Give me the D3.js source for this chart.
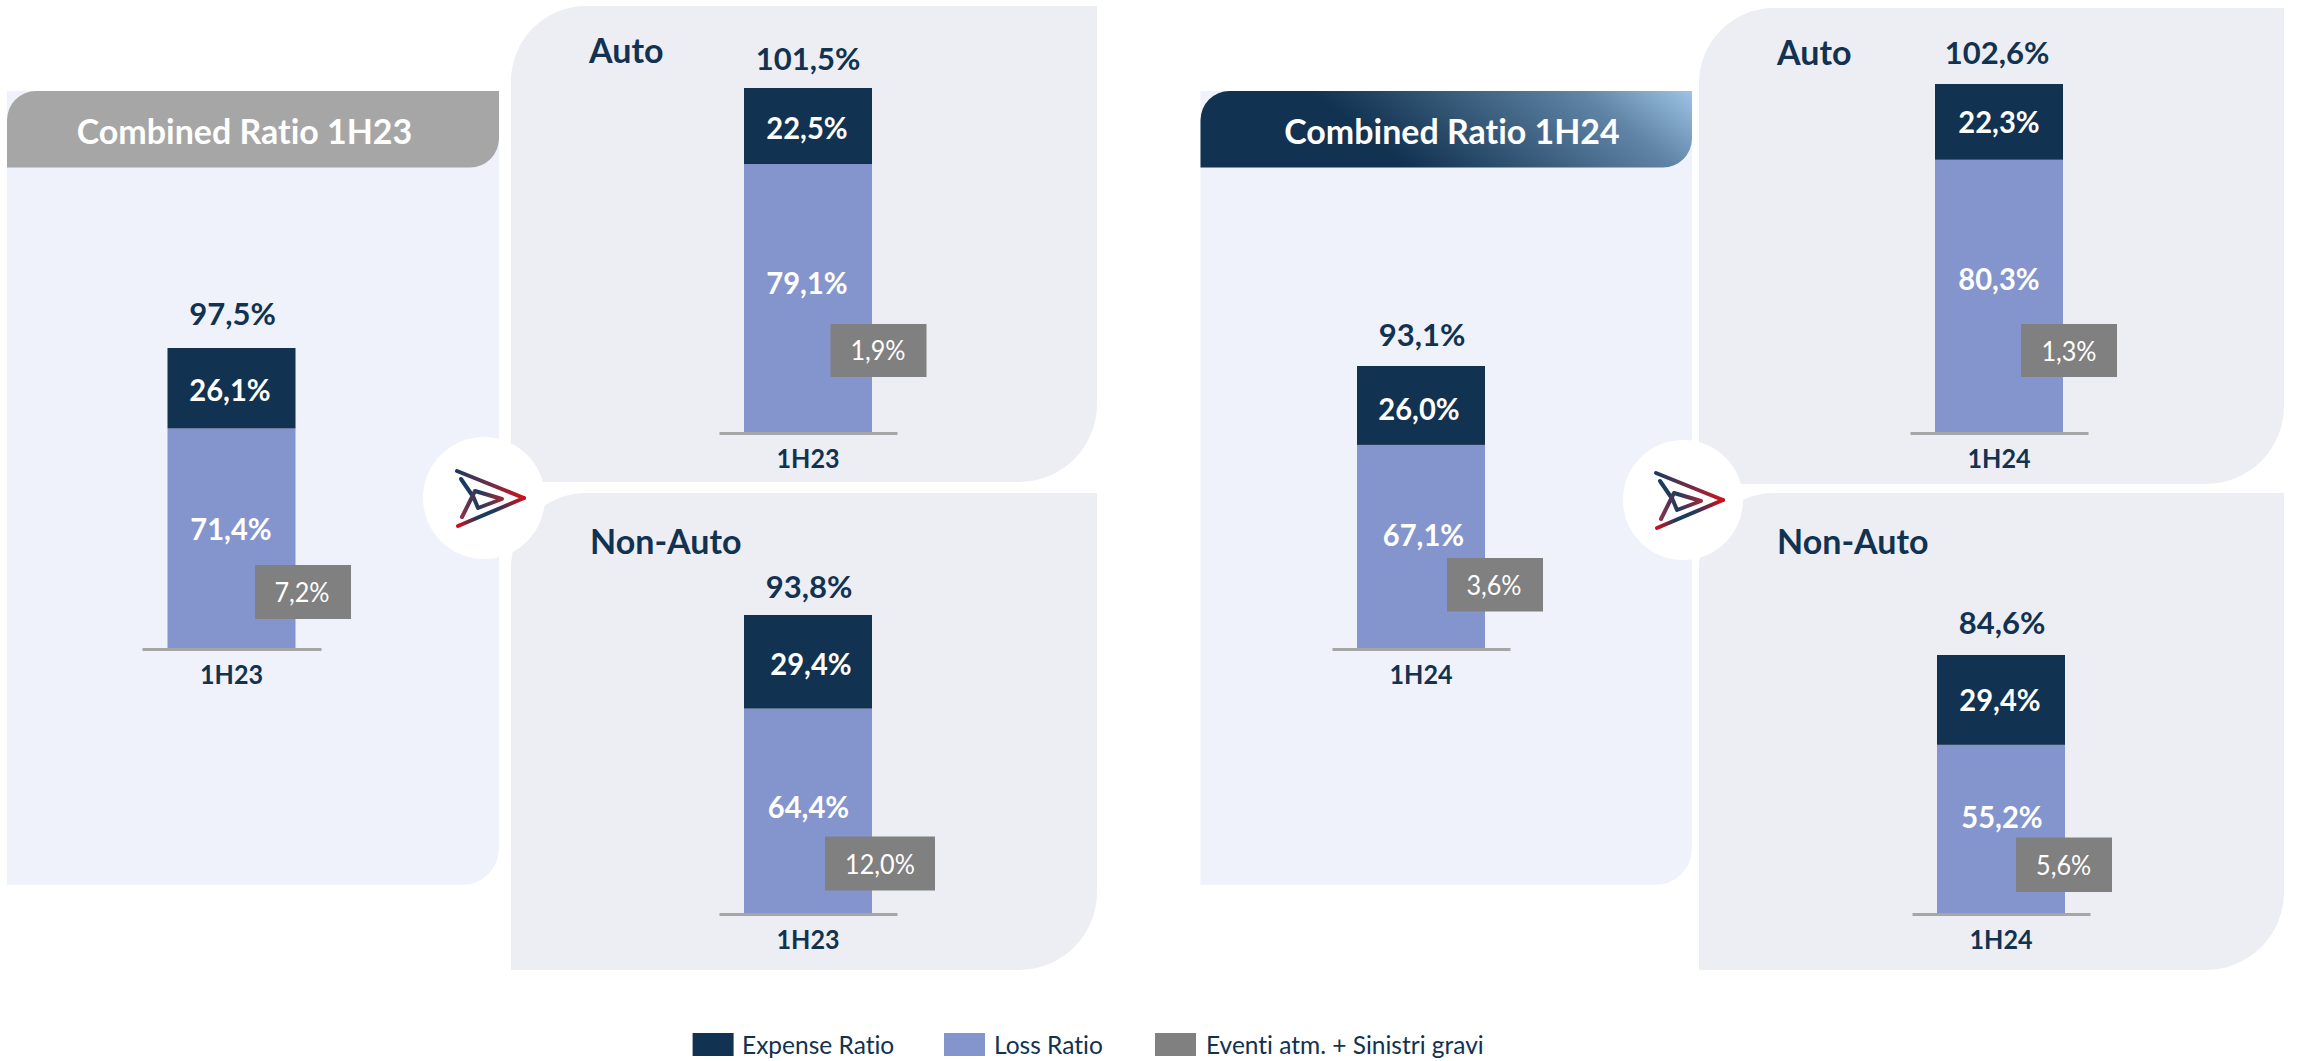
<!DOCTYPE html>
<html><head><meta charset="utf-8">
<script src="https://cdn.jsdelivr.net/npm/d3@7/dist/d3.min.js"></script>
<style>html,body{margin:0;background:#fff}svg{display:block}text{font-family:Lato,sans-serif;font-variant-ligatures:none}</style>
</head><body><div id="c"></div>
<script>
// ---- data
const charts   = ["Tot23","Auto23","NonAuto23","Tot24","Auto24","NonAuto24"];
const category = ["1H23","1H23","1H23","1H24","1H24","1H24"];
const totals   = [97.5,101.5,93.8,93.1,102.6,84.6];
const expense  = [26.1,22.5,29.4,26.0,22.3,29.4];
const loss     = [71.4,79.1,64.4,67.1,80.3,55.2];
const events   = [7.2,1.9,12.0,3.6,1.3,5.6];
const legendLabels = ["Expense Ratio","Loss Ratio","Eventi atm. + Sinistri gravi"];
const headerTitles = ["Combined Ratio 1H23","Combined Ratio 1H24"];
const panelTitles  = ["Auto","Non-Auto","Auto","Non-Auto"];

// ---- layout (pixel placement only)
const C={dark:"#113250",loss:"#8495cd",gray:"#808080",soft:"#eff2fa",panel:"#edeef3",axis:"#a6a6a6"};
const layout=[
 {bar:[167,295],axis:[142,321],top:348,base:648.5,total:[232.5,313.5],exp:[230,390],los:[231,529],box:[255,565,351,619],ev:[302,592.5]},
 {bar:[744,872],axis:[719,897],top:88,base:432.5,total:[808,59],exp:[807,127.7],los:[807,283],box:[830.5,324,926.5,377],ev:[878,351]},
 {bar:[744,872],axis:[719,897],top:615,base:913.5,total:[809,587],exp:[811,664.5],los:[808.5,807],box:[825,836.5,935,890.5],ev:[880,864.5]},
 {bar:[1357,1485],axis:[1332,1510],top:366,base:648.5,total:[1422,334.5],exp:[1419,409],los:[1423.5,535],box:[1447,558,1543,611.5],ev:[1494,586]},
 {bar:[1935,2063],axis:[1910,2088],top:84,base:432.5,total:[1997,53],exp:[1999,122.6],los:[1999,279],box:[2021,324,2117,377],ev:[2069,352]},
 {bar:[1937,2065],axis:[1912,2090],top:655,base:913.5,total:[2002,623],exp:[2000,700.6],los:[2002,817],box:[2016,837.5,2112,892],ev:[2063.7,865.5]}
];
// [font size, horizontal squeeze]
const fs={total:[31,1],val:[30,.97],ev:[26,.97],cat:[27,.93],title:[34,1],head:[35,.97],leg:[24.5,1]};
const W=2297,H=1061;
const svg=d3.select("#c").append("svg").attr("width",W).attr("height",H);
const defs=svg.append("defs");
const pct=d3.formatLocale({decimal:",",thousands:".",grouping:[3],currency:["","€"]}).format(".1f");
const label=v=>pct(v)+"%";

// rect with rounded top-left and bottom-right corners
function tlbr(x0,y0,x1,y1,r1,r2){
  const p=d3.path();
  p.moveTo(x0+r1,y0);p.lineTo(x1,y0);p.lineTo(x1,y1-r2);
  if(r2)p.arc(x1-r2,y1-r2,r2,0,Math.PI/2);
  p.lineTo(x0,y1);p.lineTo(x0,y0+r1);
  if(r1)p.arc(x0+r1,y0+r1,r1,Math.PI,Math.PI*1.5);
  p.closePath();return p.toString();
}
function squeeze(t,k){
  if(k!==1){const n=t.node();t.attr("textLength",n.getComputedTextLength()*k).attr("lengthAdjust","spacingAndGlyphs");}
  return t;
}
function txt(g,x,y,s,f,fill,weight,anchor){
  const t=g.append("text").attr("x",x).attr("y",y).attr("dy","0.36em").attr("text-anchor",anchor||"middle")
    .attr("font-size",f[0]).attr("font-weight",weight||700).attr("fill",fill).text(s);
  return squeeze(t,f[1]);
}

// ---- panels
const bg=svg.append("g");
[[7,91,499,885],[1200.5,91,1692,885]].forEach(b=>bg.append("path").attr("d",tlbr(b[0],b[1],b[2],b[3],0,37)).attr("fill",C.soft));
[[511,6,1097,482],[511,493,1097,970],[1699,8,2284,484],[1699,493,2284,970]].forEach(b=>
  bg.append("path").attr("d",tlbr(b[0],b[1],b[2],b[3],75,78)).attr("fill",C.panel));

// headers
const grad=defs.append("linearGradient").attr("id","hg").attr("gradientUnits","userSpaceOnUse")
  .attr("x1",1311).attr("y1",91).attr("x2",1455).attr("y2",-94);
[[0,C.dark],[0.7,"#5f84a5"],[1,"#9dc3e6"]].forEach(s=>grad.append("stop").attr("offset",s[0]).attr("stop-color",s[1]));
bg.append("path").attr("d",tlbr(7,91,499,167.5,29,29)).attr("fill","#a6a6a6");
bg.append("path").attr("d",tlbr(1200.5,91,1692,167.5,29,29)).attr("fill","url(#hg)");
txt(bg,244.5,131,headerTitles[0],fs.head,"#fff");
txt(bg,1452,131,headerTitles[1],fs.head,"#fff");
[[589,50.7],[590,542],[1777,52.4],[1777,542]].forEach((p,i)=>txt(bg,p[0],p[1],panelTitles[i],fs.title,C.dark,700,"start"));

// ---- charts
charts.forEach((id,i)=>{
  const L=layout[i],g=svg.append("g").attr("class","chart "+id);
  const y=d3.scaleLinear().domain([0,totals[i]]).range([L.base,L.top]);
  const r=L.axis[1]-L.axis[0],bw=L.bar[1]-L.bar[0],p=(r-bw)/(r+bw);
  const x=d3.scaleBand().domain([category[i]]).range(L.axis).paddingInner(p).paddingOuter(p);
  g.append("rect").attr("x",x(category[i])).attr("width",x.bandwidth()).attr("y",y(loss[i])).attr("height",y(0)-y(loss[i])).attr("fill",C.loss);
  g.append("rect").attr("x",x(category[i])).attr("width",x.bandwidth()).attr("y",y(totals[i])).attr("height",y(loss[i])-y(totals[i])).attr("fill",C.dark);
  const ax=g.append("g").attr("transform",`translate(0,${L.base+0.5})`).call(d3.axisBottom(x).tickSize(0).tickPadding(0));
  ax.select(".domain").attr("stroke",C.axis).attr("stroke-width",3);
  ax.selectAll("text").attr("font-size",fs.cat[0]).attr("font-weight",700).attr("fill",C.dark)
    .attr("font-family","Lato,sans-serif").attr("y",25).attr("dy","0.36em")
    .each(function(){squeeze(d3.select(this),fs.cat[1]);});
  txt(g,L.total[0],L.total[1],label(totals[i]),fs.total,C.dark);
  txt(g,L.exp[0],L.exp[1],label(expense[i]),fs.val,"#fff");
  txt(g,L.los[0],L.los[1],label(loss[i]),fs.val,"#fff");
  const b=L.box;
  g.append("rect").attr("x",b[0]).attr("y",b[1]).attr("width",b[2]-b[0]).attr("height",b[3]-b[1]).attr("fill",C.gray);
  txt(g,L.ev[0],L.ev[1],label(events[i]),fs.ev,"#fff",400);
});

// ---- logo badges
const lg1=defs.append("linearGradient").attr("id","lgT");
[[0,"#1c3a5e"],[0.55,"#7a2a45"],[1,"#d0101a"]].forEach(s=>lg1.append("stop").attr("offset",s[0]).attr("stop-color",s[1]));
const lg2=defs.append("linearGradient").attr("id","lgB");
[[0,"#d0101a"],[0.3,"#1c3a5e"],[0.55,"#1c3a5e"],[1,"#d0101a"]].forEach(s=>lg2.append("stop").attr("offset",s[0]).attr("stop-color",s[1]));
const lg3=defs.append("linearGradient").attr("id","lgI");
[[0,"#8a3048"],[0.4,"#1c3a5e"],[1,"#a02835"]].forEach(s=>lg3.append("stop").attr("offset",s[0]).attr("stop-color",s[1]));
defs.append("filter").attr("id","soft").append("feGaussianBlur").attr("stdDeviation",0.5);
[[484,498,61],[1683,500,60]].forEach(o=>{
  const g=svg.append("g").attr("transform",`translate(${o[0]},${o[1]})`);
  g.append("circle").attr("r",o[2]).attr("fill","#fff");
  const m=g.append("g").attr("filter","url(#soft)");
  const s=(d,c,w)=>m.append("path").attr("d",d).attr("fill","none").attr("stroke",c).attr("stroke-width",w).attr("stroke-linecap","round").attr("stroke-linejoin","round");
  s("M-27,-27L40,0","url(#lgT)",4);
  s("M40,0L-26,28","url(#lgB)",4);
  s("M-23,-19L-12,-3","#1c3a5e",4);
  s("M-22,19L-9,-7L18,1L-6,10L-11,-2","url(#lgI)",4);
});

// ---- legend
const lg=svg.append("g").attr("class","legend");
[[692.6,C.dark,742],[944,C.loss,994],[1155,C.gray,1206]].forEach((p,i)=>{
  lg.append("rect").attr("x",p[0]).attr("y",1033).attr("width",41).attr("height",23).attr("fill",p[1]);
  txt(lg,p[2],1045,legendLabels[i],fs.leg,C.dark,400,"start");
});
</script></body></html>
